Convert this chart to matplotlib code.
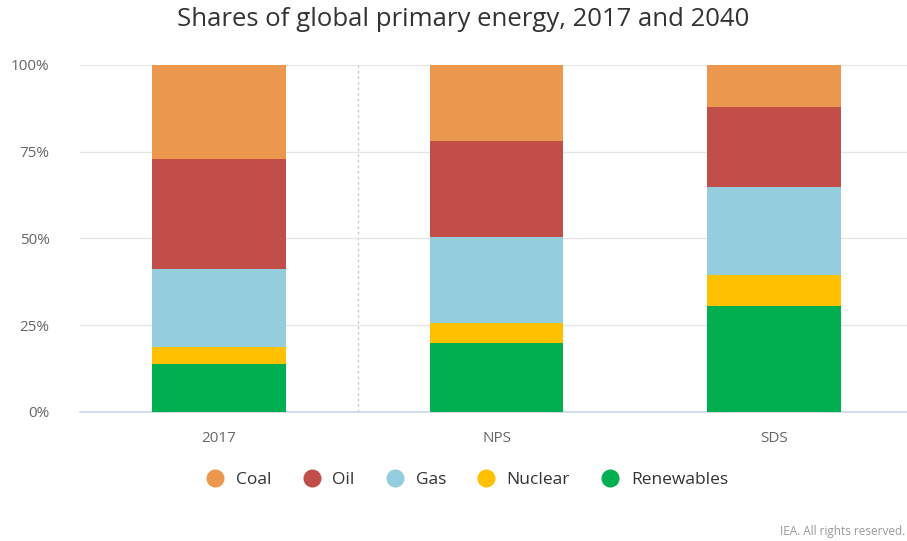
import numpy as np
import matplotlib.pyplot as plt
from matplotlib.lines import Line2D
from matplotlib.ticker import FuncFormatter

plt.rcParams['font.family'] = ['Open Sans', 'DejaVu Sans']

categories = ['2017', 'NPS', 'SDS']
sources = ['Renewables', 'Nuclear', 'Gas', 'Oil', 'Coal']
shares = {
    'Renewables': [13.7, 19.9, 30.5],
    'Nuclear':    [5.0, 5.6, 9.0],
    'Gas':        [22.4, 25.0, 25.2],
    'Oil':        [31.7, 27.6, 23.1],
    'Coal':       [27.2, 21.9, 12.2],
}
colors = {
    'Coal': '#EB984E',
    'Oil': '#C14E49',
    'Gas': '#94CDDD',
    'Nuclear': '#FFC000',
    'Renewables': '#00B050',
}
legend_order = ['Coal', 'Oil', 'Gas', 'Nuclear', 'Renewables']

fig = plt.figure(figsize=(9.07, 5.41), dpi=100)
ax = fig.add_axes([80 / 907, (541 - 411.7) / 541, 1 - 80 / 907, (411.7 - 65) / 541])

x = np.arange(len(categories))
bottom = np.zeros(len(categories))
for s in sources:
    vals = np.array(shares[s])
    ax.bar(x, vals, width=0.482, bottom=bottom, color=colors[s], zorder=3)
    bottom += vals

ax.set_xlim(-0.5, 2.478)
ax.set_ylim(0, 100)
ax.set_yticks([0, 25, 50, 75, 100])
ax.yaxis.set_major_formatter(FuncFormatter(lambda v, p: f'{int(v)}%'))
ax.set_xticks(x)
ax.set_xticklabels(categories)
ax.grid(axis='y', color='#e6e6e6', linewidth=1, zorder=0)
ax.axvline(0.5, color='#cccccc', linestyle=(0, (2, 2)), linewidth=1, zorder=1)

for sp in ['top', 'right', 'left']:
    ax.spines[sp].set_visible(False)
ax.spines['bottom'].set_color('#ccd6eb')
ax.spines['bottom'].set_linewidth(1.2)
ax.tick_params(axis='both', length=0, labelsize=11, colors='#666666')
ax.tick_params(axis='x', pad=14)
ax.tick_params(axis='y', pad=22)

fig.text(463 / 907, 1 - 20 / 541, 'Shares of global primary energy, 2017 and 2040',
         ha='center', va='center', fontsize=18.5, color='#333333')

handles = [Line2D([0], [0], marker='o', linestyle='', markersize=13,
                  markerfacecolor=colors[s], markeredgecolor='none', label=s)
           for s in legend_order]
fig.legend(handles=handles, loc='center', bbox_to_anchor=(463 / 907, 1 - 480 / 541),
           ncol=5, frameon=False, fontsize=12.5, handletextpad=0.2,
           columnspacing=1.3, labelcolor='#333333')

fig.text(905 / 907, 1 - 532 / 541, 'IEA. All rights reserved.', ha='right', va='center',
         fontsize=8.5, color='#999999')

plt.savefig('out.png', dpi=100)
